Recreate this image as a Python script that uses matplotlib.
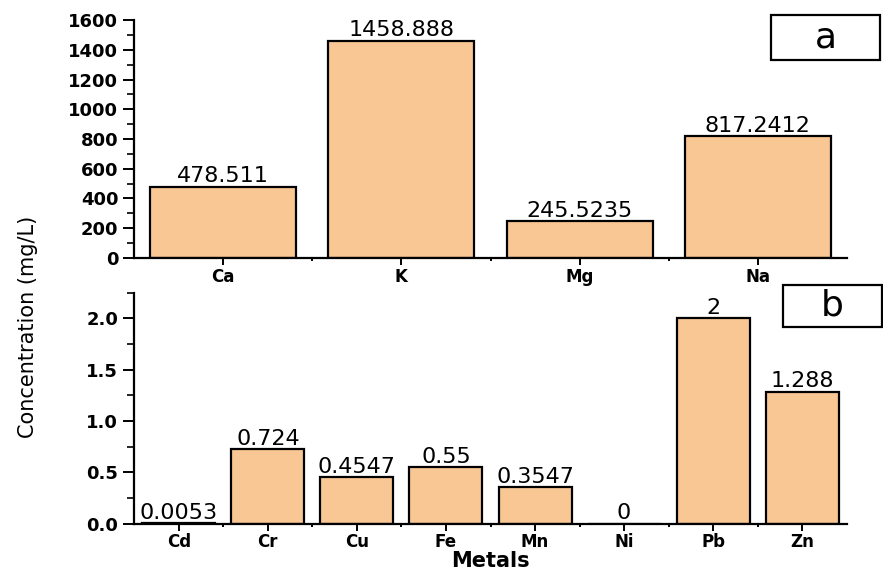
import matplotlib
matplotlib.use("Agg")
import matplotlib.pyplot as plt
from matplotlib import font_manager
from matplotlib.patches import Rectangle
from matplotlib.ticker import MultipleLocator, FormatStrFormatter

# panel a: major elements
major_metals = ["Ca", "K", "Mg", "Na"]
major_values = [478.511, 1458.888, 245.5235, 817.2412]
major_labels = ["478.511", "1458.888", "245.5235", "817.2412"]

# panel b: trace elements
trace_metals = ["Cd", "Cr", "Cu", "Fe", "Mn", "Ni", "Pb", "Zn"]
trace_values = [0.0053, 0.724, 0.4547, 0.55, 0.3547, 0.0, 2.0, 1.288]
trace_labels = ["0.0053", "0.724", "0.4547", "0.55", "0.3547", "0", "2", "1.288"]

bar_color = "#F9C794"

names = {f.name for f in font_manager.fontManager.ttflist}
narrow = "Liberation Sans Narrow" if "Liberation Sans Narrow" in names else "DejaVu Sans"

plt.rcParams["font.family"] = "DejaVu Sans"

fig = plt.figure(figsize=(8.83, 5.73), dpi=100)
ax1 = fig.add_axes([0.152, 0.550, 0.807, 0.415])
ax2 = fig.add_axes([0.152, 0.086, 0.807, 0.403])


def style(ax):
    for s in ["top", "right"]:
        ax.spines[s].set_visible(False)
    for s in ["left", "bottom"]:
        ax.spines[s].set_linewidth(1.6)
    ax.tick_params(axis="y", which="major", direction="out", length=8, width=1.4, labelsize=13)
    ax.tick_params(axis="y", which="minor", direction="out", length=5, width=1.2)
    ax.tick_params(axis="x", which="major", direction="out", length=5, width=1.4, labelsize=12, pad=2)
    ax.tick_params(axis="x", which="minor", direction="out", length=2, width=1.4)
    for lab in ax.get_xticklabels() + ax.get_yticklabels():
        lab.set_fontweight("bold")


# top panel
x1 = range(len(major_metals))
ax1.bar(x1, major_values, width=0.82, color=bar_color, edgecolor="black", linewidth=1.6)
for i, (v, t) in enumerate(zip(major_values, major_labels)):
    ax1.text(i, v + 5, t, ha="center", va="bottom", fontsize=16)
ax1.set_xlim(-0.5, len(major_metals) - 0.5)
ax1.set_ylim(0, 1600)
ax1.set_xticks(list(x1))
ax1.set_xticklabels(major_metals)
ax1.set_xticks([i + 0.5 for i in range(len(major_metals) - 1)], minor=True)
ax1.yaxis.set_major_locator(MultipleLocator(200))
ax1.yaxis.set_minor_locator(MultipleLocator(100))
style(ax1)

# bottom panel
x2 = range(len(trace_metals))
ax2.bar(x2, trace_values, width=0.82, color=bar_color, edgecolor="black", linewidth=1.6)
for i, (v, t) in enumerate(zip(trace_values, trace_labels)):
    ax2.text(i, v + 0.005, t, ha="center", va="bottom", fontsize=16)
ax2.set_xlim(-0.5, len(trace_metals) - 0.5)
ax2.set_ylim(0, 2.25)
ax2.set_xticks(list(x2))
ax2.set_xticklabels(trace_metals)
ax2.set_xticks([i + 0.5 for i in range(len(trace_metals) - 1)], minor=True)
ax2.yaxis.set_major_locator(MultipleLocator(0.5))
ax2.yaxis.set_minor_locator(MultipleLocator(0.25))
ax2.yaxis.set_major_formatter(FormatStrFormatter("%.1f"))
style(ax2)

ax2.set_xlabel("Metals", fontsize=15, fontweight="bold", labelpad=0)
fig.text(0.032, 0.43, "Concentration (mg/L)", rotation=90, ha="center", va="center",
         fontsize=15, family=narrow)

# panel tags
for (x0, y0, w, h, tag) in [(771, 15, 109, 45, "a"), (783, 285, 99, 42, "b")]:
    fig.add_artist(Rectangle((x0 / 883, 1 - (y0 + h) / 573), w / 883, h / 573,
                             transform=fig.transFigure, facecolor="white",
                             edgecolor="black", linewidth=1.6, zorder=5))
    fig.text((x0 + w / 2) / 883, 1 - (y0 + h / 2) / 573, tag, ha="center", va="center",
             fontsize=26, zorder=6)

fig.savefig("out.png", dpi=100)
